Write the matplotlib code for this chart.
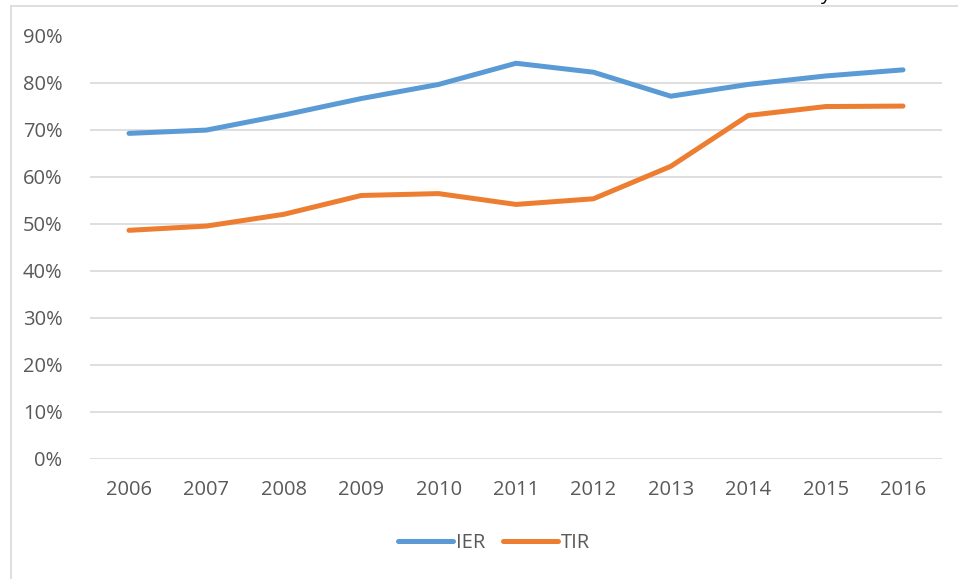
import matplotlib.pyplot as plt
from matplotlib.lines import Line2D
from matplotlib.ticker import FuncFormatter

# data
years = [2006, 2007, 2008, 2009, 2010, 2011, 2012, 2013, 2014, 2015, 2016]
ier = [0.692, 0.699, 0.731, 0.766, 0.796, 0.841, 0.822, 0.771, 0.796, 0.814, 0.827]
tir = [0.486, 0.495, 0.520, 0.560, 0.564, 0.541, 0.553, 0.622, 0.730, 0.749, 0.750]

text_col = '#595959'
grid_col = '#D9D9D9'
plt.rcParams['font.family'] = ['Open Sans', 'DejaVu Sans']

W, H = 958, 579
fig = plt.figure(figsize=(W / 100, H / 100), dpi=100)
ax = fig.add_axes([90.3 / W, 1 - 459 / H, (941.7 - 90.3) / W, (459 - 35.5) / H])

x = list(range(len(years)))
ax.plot(x, ier, color='#5B9BD5', lw=3.6, solid_capstyle='round', label='IER')
ax.plot(x, tir, color='#ED7D31', lw=3.6, solid_capstyle='round', label='TIR')

ax.set_xlim(-0.5, len(years) - 0.5)
ax.set_ylim(0, 0.9)
ax.set_yticks([i / 10 for i in range(10)])
ax.yaxis.set_major_formatter(FuncFormatter(lambda v, p: f'{v * 100:.0f}%'))
ax.set_xticks(x)
ax.set_xticklabels([str(y) for y in years])

ax.grid(axis='y', color=grid_col, lw=1.2)
ax.set_axisbelow(True)
for s in ax.spines.values():
    s.set_visible(False)
ax.tick_params(axis='both', length=0, labelsize=14.5, colors=text_col)
ax.tick_params(axis='y', pad=20)
ax.tick_params(axis='x', pad=15)

fig.legend(loc='center', bbox_to_anchor=(494 / W, 1 - 543 / H), ncol=2, frameon=False,
           fontsize=14.5, labelcolor=text_col, handlelength=2.7, handletextpad=0.15,
           columnspacing=0.9)

# chart frame edges (left and top only visible)
fig.add_artist(Line2D([11 / W, 11 / W], [0, 1 - 6 / H], color=grid_col, lw=1.2))
fig.add_artist(Line2D([11 / W, 1], [1 - 6 / H, 1 - 6 / H], color=grid_col, lw=1.2))

# clipped fragment of a title above the chart
fig.text(820 / W, 1.0, 'y', fontsize=14, color='black', va='baseline', ha='left')

fig.savefig('out.png', dpi=100)
